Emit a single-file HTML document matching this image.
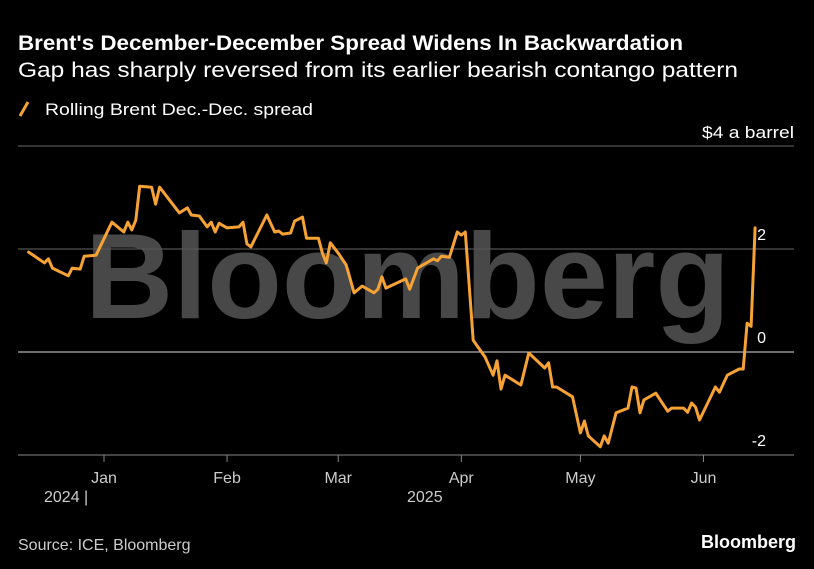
<!DOCTYPE html>
<html><head><meta charset="utf-8"><style>
html,body{margin:0;padding:0;background:#000;}
svg{display:block;font-family:"Liberation Sans","DejaVu Sans",sans-serif;}
</style></head><body>
<svg id="chart" width="814" height="569" viewBox="0 0 814 569">
<rect width="814" height="569" fill="#000"/>
<text x="18" y="50" fill="#fff" font-size="21" font-weight="bold" textLength="665" lengthAdjust="spacingAndGlyphs">Brent's December-December Spread Widens In Backwardation</text>
<text x="18" y="77" fill="#fff" font-size="21" textLength="720" lengthAdjust="spacingAndGlyphs">Gap has sharply reversed from its earlier bearish contango pattern</text>
<line x1="20" y1="116" x2="28" y2="102" stroke="#f6a234" stroke-width="3"/>
<text x="45" y="115" fill="#fff" font-size="17" textLength="268" lengthAdjust="spacingAndGlyphs">Rolling Brent Dec.-Dec. spread</text>
<text x="794" y="138" fill="#fff" font-size="17" text-anchor="end" textLength="92" lengthAdjust="spacingAndGlyphs">$4 a barrel</text>
<g id="grid"></g>
<text x="85" y="318" fill="#555" fill-opacity="0.85" font-size="122" font-weight="bold" textLength="645" lengthAdjust="spacingAndGlyphs">Bloomberg</text>
<g id="axes"></g>
<g id="series"></g>
<text x="44" y="502" fill="#ccc" font-size="16">2024 |</text>
<text x="407" y="502" fill="#ccc" font-size="16">2025</text>
<text x="18" y="550" fill="#ccc" font-size="16">Source: ICE, Bloomberg</text>
<text x="796" y="548" fill="#fff" font-size="18" font-weight="bold" text-anchor="end">Bloomberg</text>
</svg>
<script>
// days since 2024-12-01
const days = [12,16,17,18,22,23,25,26,29,33,36,37,38,39,40,43,44,45,50,52,53,55,57,58,59,60,62,65,66,67,68,72,74,75,76,78,79,81,82,85,86,87,88,90,92,94,96,99,100,101,102,107,108,110,114,115,116,118,120,121,122,124,127,129,130,131,132,136,138,142,143,144,145,149,151,152,153,156,157,158,160,163,164,165,166,167,170,173,174,177,178,179,180,181,185,186,188,191,192,193,194,195];
const spread = [1.94,1.73,1.81,1.63,1.48,1.63,1.61,1.86,1.88,2.52,2.33,2.52,2.37,2.56,3.22,3.20,2.87,3.20,2.70,2.80,2.66,2.64,2.43,2.52,2.33,2.50,2.41,2.43,2.52,2.10,2.04,2.66,2.33,2.35,2.29,2.31,2.54,2.62,2.21,2.21,1.92,1.73,2.12,1.92,1.69,1.15,1.28,1.15,1.22,1.46,1.24,1.42,1.22,1.63,1.81,1.77,1.86,1.84,2.33,2.27,2.33,0.23,-0.10,-0.45,-0.17,-0.72,-0.45,-0.64,-0.02,-0.31,-0.21,-0.68,-0.68,-0.87,-1.57,-1.34,-1.63,-1.84,-1.63,-1.77,-1.18,-1.09,-0.68,-0.70,-1.18,-0.93,-0.80,-1.15,-1.09,-1.09,-1.17,-0.99,-1.07,-1.32,-0.68,-0.78,-0.45,-0.33,-0.33,0.56,0.50,2.41];
const yTicks = [4,2,0,-2];
const yTickLabels = ["","2","0","-2"];
const monthDays = [31,62,90,121,151,182];
const monthLabels = ["Jan","Feb","Mar","Apr","May","Jun"];

const NS = "http://www.w3.org/2000/svg";
const x = d => 104 + (d - 31) * 3.97;
const y = v => 352 - v * 51.5;
function mk(tag, attrs, parent){const e=document.createElementNS(NS,tag);for(const k in attrs)e.setAttribute(k,attrs[k]);parent.appendChild(e);return e;}
const grid=document.getElementById('grid'), axes=document.getElementById('axes'), series=document.getElementById('series');
yTicks.forEach((t,i)=>{
  const l=mk('line',{x1:18,x2:794,y1:y(t),y2:y(t),stroke:t===0?'#ddd':'#666','stroke-width':1},t===0?axes:grid);
  
  
  if(yTickLabels[i]){
    const tx=mk('text',{x:766,y:y(t)-9,fill:'#fff','font-size':16,'text-anchor':'end'},axes);
    tx.textContent=yTickLabels[i];
    
    
  }
});
const bottom=mk('line',{x1:18,x2:794,y1:455,y2:455,stroke:'#888','stroke-width':1},axes);


monthDays.forEach((d,i)=>{
  const tk=mk('line',{x1:x(d),x2:x(d),y1:455,y2:462,stroke:'#888','stroke-width':1},axes);
  
  
  const tx=mk('text',{x:x(d),y:483,fill:'#ccc','font-size':16,'text-anchor':'middle'},axes);
  tx.textContent=monthLabels[i];
  
  
});
const pts=days.map((d,i)=>x(d).toFixed(1)+','+y(spread[i]).toFixed(1)).join(' ');
const pl=mk('polyline',{points:pts,fill:'none',stroke:'#f6a234','stroke-width':3,'stroke-linejoin':'round','stroke-linecap':'round'},series);


</script>
</body></html>
